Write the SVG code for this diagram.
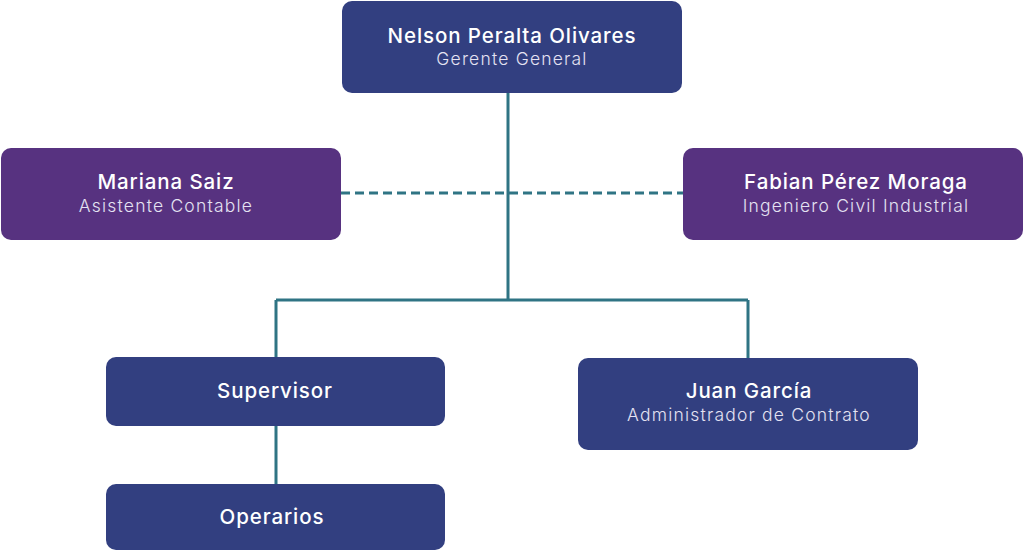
<svg xmlns="http://www.w3.org/2000/svg" width="1024" height="551" viewBox="0 0 1024 551">
<style>
.blue{fill:#323f80}
.purple{fill:#573280}
.t{font-family:Inter,"Noto Sans","Liberation Sans",sans-serif;font-size:20.5px;font-weight:500;letter-spacing:0.9px;fill:#ffffff;text-anchor:middle}
.s{font-family:Inter,"Noto Sans","Liberation Sans",sans-serif;font-size:17.5px;font-weight:300;letter-spacing:1.2px;fill:#e4e2f2;text-anchor:middle}
.c{stroke:#2f7484;stroke-width:3;fill:none}
</style>
<rect width="1024" height="551" fill="#ffffff"/>
<g id="connectors">
<path class="c" d="M508 93 V300 M276 300 H748 M276 300 V357 M748 300 V358 M276 426 V484"/>
<path class="c" d="M341 193 H683" stroke-dasharray="9 5"/>
</g>
<g id="nelson">
<rect class="blue" x="342" y="1" width="340" height="92" rx="10"/>
<text class="t" x="512" y="43">Nelson Peralta Olivares</text>
<text class="s" x="512" y="65">Gerente General</text>
</g>
<g id="mariana">
<rect class="purple" x="1" y="148" width="340" height="92" rx="10"/>
<text class="t" x="166" y="189">Mariana Saiz</text>
<text class="s" x="166" y="212">Asistente Contable</text>
</g>
<g id="fabian">
<rect class="purple" x="683" y="148" width="340" height="92" rx="10"/>
<text class="t" x="856" y="189">Fabian Pérez Moraga</text>
<text class="s" x="856" y="212">Ingeniero Civil Industrial</text>
</g>
<g id="supervisor">
<rect class="blue" x="106" y="357" width="339" height="69" rx="10"/>
<text class="t" x="275" y="398">Supervisor</text>
</g>
<g id="juan">
<rect class="blue" x="578" y="358" width="340" height="92" rx="10"/>
<text class="t" x="749" y="398">Juan García</text>
<text class="s" x="749" y="421">Administrador de Contrato</text>
</g>
<g id="operarios">
<rect class="blue" x="106" y="484" width="339" height="66" rx="10"/>
<text class="t" x="272" y="524">Operarios</text>
</g>
</svg>
